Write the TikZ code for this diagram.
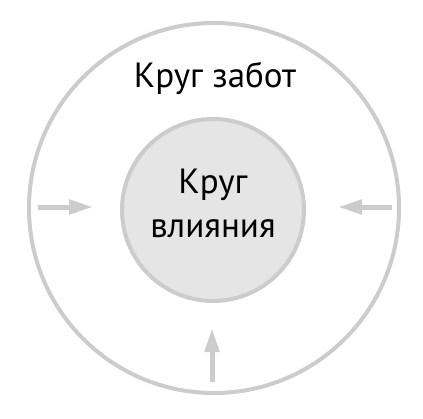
\documentclass[tikz,border=0pt]{standalone}
\usepackage{fontspec}
\setmainfont{PT Sans}
\usepackage{xcolor}
\usetikzlibrary{arrows.meta}

\begin{document}
\begin{tikzpicture}[x=1pt,y=-1pt,
		ring/.style={circle,draw=gray!40,line width=4pt,inner sep=0pt},
		label/.style={font=\fontsize{35}{44}\selectfont,align=center,anchor=base,text=black},
		push/.style={draw=gray!40,line width=5pt,-{Triangle[length=24pt,width=14pt]}}]
		\useasboundingbox (0,0) rectangle (423,418);
		\node (zabot) [ring,minimum size=370pt] at (214,208) {};
		\node (vliyanie) [ring,fill=gray!20,minimum size=182pt] at (213,210) {};
		\node (vliyanieText) [label] at (213,237) {Круг\\влияния};
		\node (zabotText) [label] at (215,87) {Круг забот};
		\coordinate (L) at (38,207);
		\coordinate (R) at (392,207);
		\coordinate (B) at (212,382);
		\draw [push] (L) -- (93,207);
		\draw [push] (R) -- (338,207);
		\draw [push] (B) -- (212,328);
	\end{tikzpicture}
\end{document}
